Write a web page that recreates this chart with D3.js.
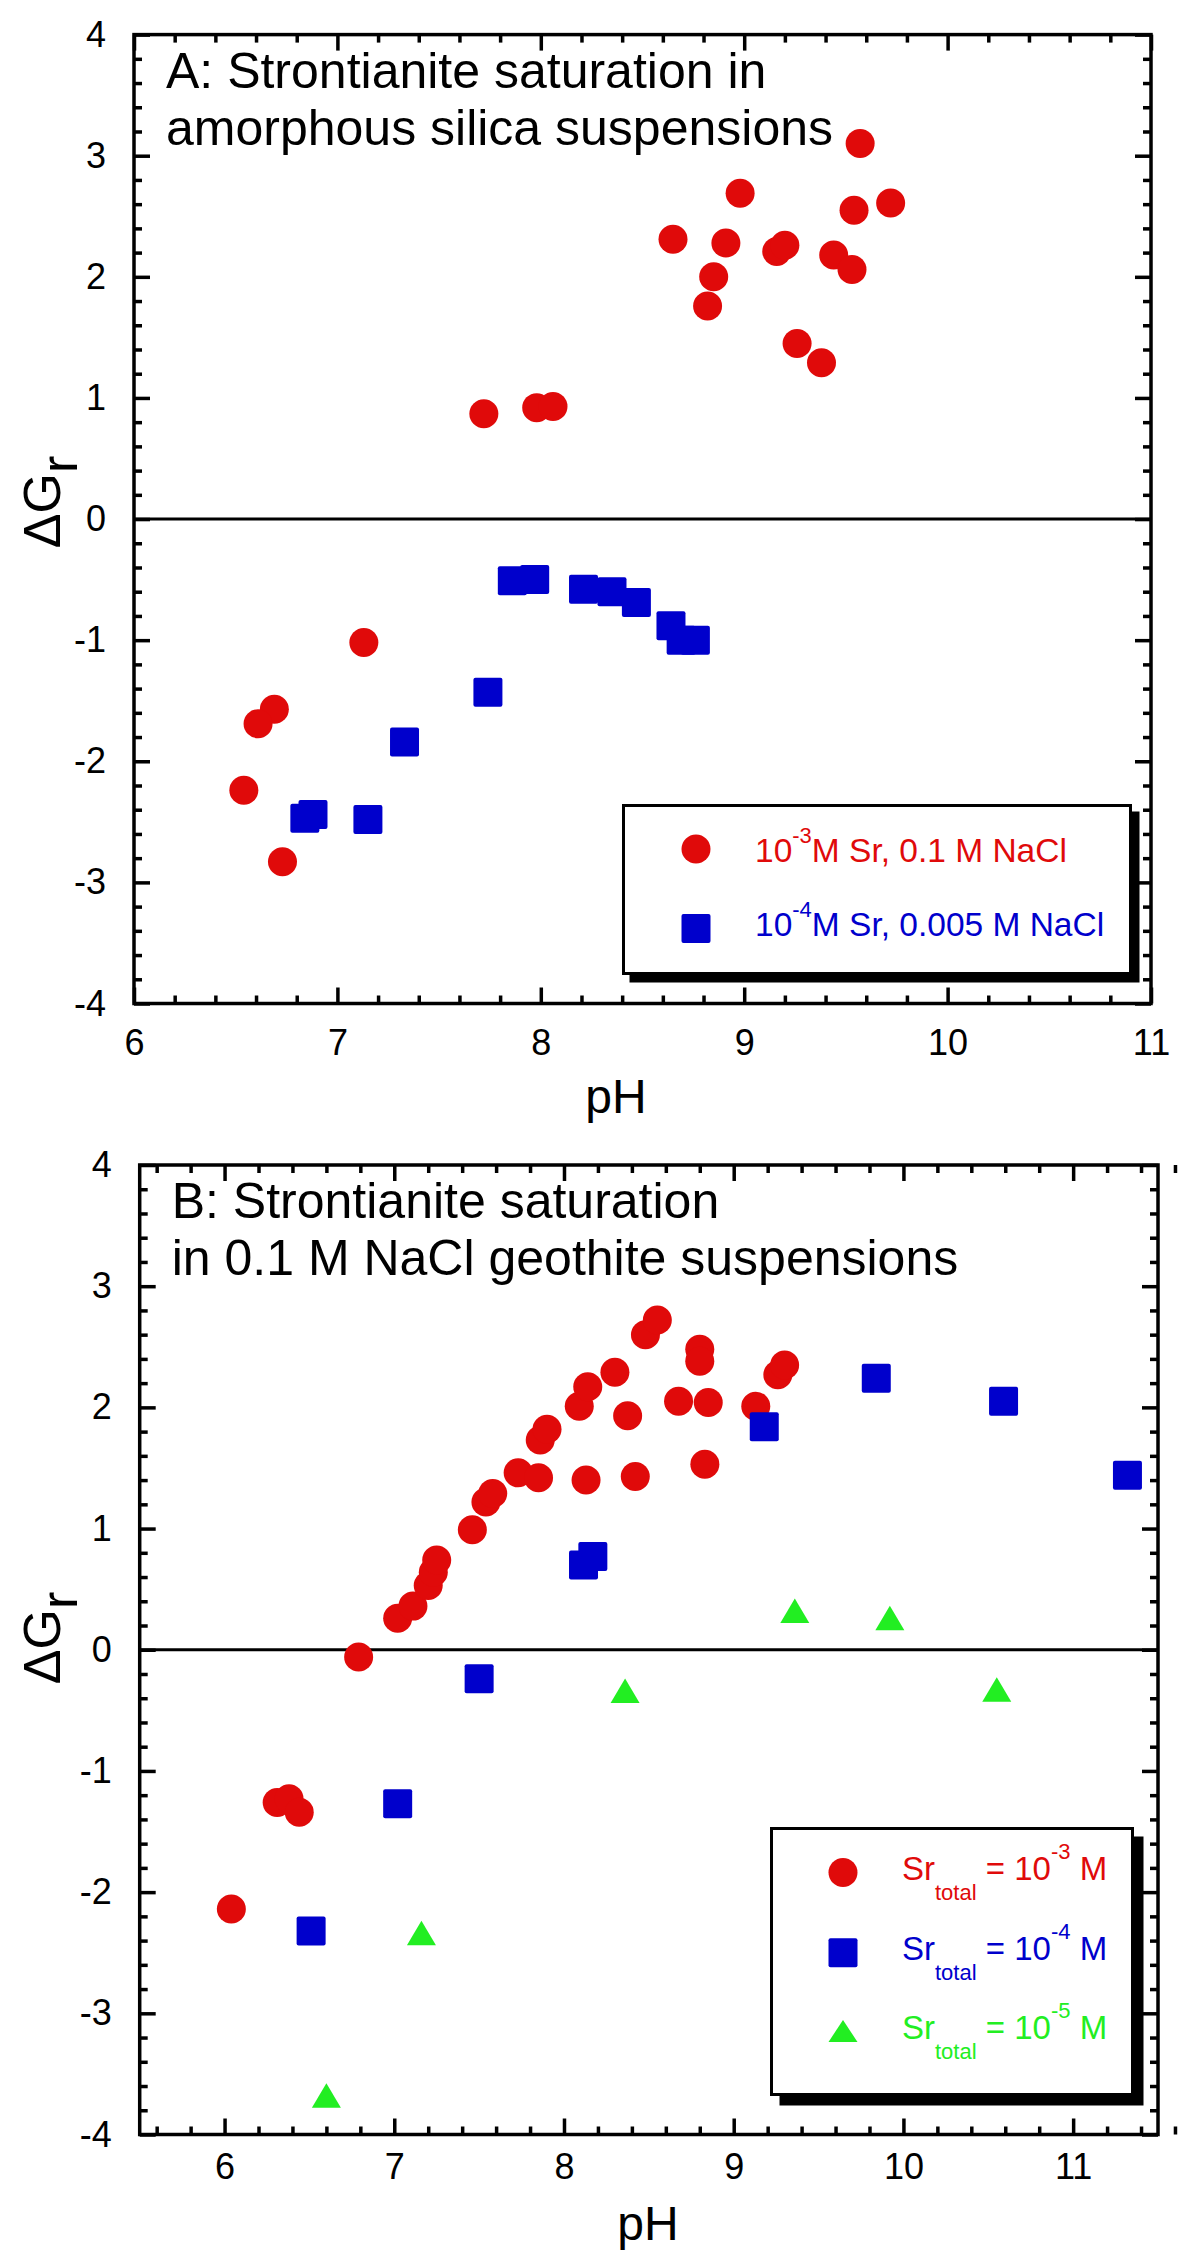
<!DOCTYPE html>
<html>
<head>
<meta charset="utf-8">
<script src="https://cdn.jsdelivr.net/npm/d3@7"></script>
<style>
  body { margin: 0; background: #fff; }
  svg { display: block; font-family: "Liberation Sans", Arial, Helvetica, sans-serif; }
</style>
</head>
<body>
<svg id="chart" width="1200" height="2260"></svg>
<script>
// ---------------- DATA ----------------
// Panel A: amorphous silica suspensions
const aRedPH = [7.72, 7.98, 8.06, 9.57, 8.98, 9.54, 9.72, 8.65, 8.91, 9.16, 9.20, 9.44, 9.53, 8.85, 8.82, 9.26, 9.38, 7.13, 6.69, 6.61, 6.54, 6.73];
const aRedDG = [0.87, 0.92, 0.93, 3.10, 2.69, 2.55, 2.61, 2.31, 2.28, 2.21, 2.26, 2.18, 2.06, 2.00, 1.76, 1.45, 1.29, -1.02, -1.57, -1.69, -2.24, -2.83];
const aBluePH = [7.86, 7.97, 8.21, 8.35, 8.47, 8.64, 8.69, 8.76, 7.74, 7.33, 6.84, 6.88, 7.15];
const aBlueDG = [-0.51, -0.50, -0.58, -0.60, -0.69, -0.88, -1.00, -1.00, -1.43, -1.84, -2.47, -2.44, -2.48];

// Panel B: 0.1 M NaCl goethite suspensions
const bRedPH = [6.79, 7.02, 7.11, 7.20, 7.23, 7.25, 7.46, 7.54, 7.58, 7.73, 7.85, 7.86, 7.90, 8.09, 8.14, 8.13, 8.30, 8.375, 8.42, 8.48, 8.55, 8.675, 8.80, 8.80, 8.85, 8.83, 9.13, 9.26, 9.30, 6.31, 6.38, 6.44, 6.04];
const bRedDG = [-0.06, 0.26, 0.36, 0.53, 0.64, 0.74, 0.99, 1.22, 1.29, 1.46, 1.42, 1.73, 1.82, 2.01, 2.17, 1.40, 2.29, 1.93, 1.43, 2.60, 2.72, 2.05, 2.48, 2.38, 2.04, 1.53, 2.01, 2.27, 2.35, -1.26, -1.23, -1.34, -2.14];
const bBluePH = [8.115, 8.17, 7.50, 9.18, 9.84, 10.59, 11.32, 7.02, 6.51];
const bBlueDG = [0.70, 0.77, -0.24, 1.84, 2.24, 2.05, 1.44, -1.27, -2.32];
const bGreenPH = [9.36, 9.92, 8.36, 10.55, 7.16, 6.60];
const bGreenDG = [0.32, 0.26, -0.34, -0.33, -2.34, -3.68];

// Tick labels
const xTicksA = [6, 7, 8, 9, 10, 11];
const xTicksB = [6, 7, 8, 9, 10, 11];
const yTicks = [-4, -3, -2, -1, 0, 1, 2, 3, 4];

// Titles / legend labels
const titleA = ["A: Strontianite saturation in", "amorphous silica suspensions"];
const titleB = ["B: Strontianite saturation", "in 0.1 M NaCl geothite suspensions"];

// ---------------- STYLE ----------------
const RED = "#E00A0A", BLUE = "#0000CC", GREEN = "#22EE22";
const svg = d3.select("#chart");

function zip(xs, ys) { return xs.map((v, i) => ({ x: v, y: ys[i] })); }

function drawPanel(cfg) {
  const g = svg.append("g");
  const x = d3.scaleLinear().domain(cfg.xDomain).range([cfg.left, cfg.right]);
  const y = d3.scaleLinear().domain([-4, 4]).range([cfg.bottom, cfg.top]);

  const xMinor = d3.range(Math.round(cfg.xDomain[0] * 5), Math.round(cfg.xDomain[1] * 5) + 1)
    .map(v => v / 5).filter(v => Math.abs(v - Math.round(v)) > 1e-6);
  const yMinor = d3.range(-20, 21).map(v => v / 5).filter(v => Math.abs(v - Math.round(v)) > 1e-6);

  const SW = 3.5;
  function styleAxis(sel) {
    sel.select(".domain").remove();
    sel.selectAll(".tick line").attr("stroke", "#000").attr("stroke-width", SW);
    sel.selectAll(".tick text").attr("fill", "#000").style("font-size", "36px")
      .style("font-family", '"Liberation Sans", Arial, sans-serif');
  }
  const fmt = d => String(d);

  // bottom
  g.append("g").attr("transform", `translate(0,${cfg.bottom})`)
    .call(d3.axisBottom(x).tickValues(cfg.xTicks).tickSize(-16).tickPadding(cfg.xPad).tickFormat(fmt)).call(styleAxis);
  g.append("g").attr("transform", `translate(0,${cfg.bottom})`)
    .call(d3.axisBottom(x).tickValues(xMinor).tickSize(-8).tickFormat("")).call(styleAxis);
  // top
  g.append("g").attr("transform", `translate(0,${cfg.top})`)
    .call(d3.axisTop(x).tickValues(cfg.xTicks).tickSize(-16).tickFormat("")).call(styleAxis);
  g.append("g").attr("transform", `translate(0,${cfg.top})`)
    .call(d3.axisTop(x).tickValues(xMinor).tickSize(-8).tickFormat("")).call(styleAxis);
  // left
  g.append("g").attr("transform", `translate(${cfg.left},0)`)
    .call(d3.axisLeft(y).tickValues(yTicks).tickSize(-16).tickPadding(28).tickFormat(fmt)).call(styleAxis);
  g.append("g").attr("transform", `translate(${cfg.left},0)`)
    .call(d3.axisLeft(y).tickValues(yMinor).tickSize(-8).tickFormat("")).call(styleAxis);
  // right
  g.append("g").attr("transform", `translate(${cfg.right},0)`)
    .call(d3.axisRight(y).tickValues(yTicks).tickSize(-16).tickFormat("")).call(styleAxis);
  g.append("g").attr("transform", `translate(${cfg.right},0)`)
    .call(d3.axisRight(y).tickValues(yMinor).tickSize(-8).tickFormat("")).call(styleAxis);

  // zero line
  g.append("line").attr("x1", cfg.left).attr("x2", cfg.right)
    .attr("y1", y(0)).attr("y2", y(0)).attr("stroke", "#000").attr("stroke-width", 3);

  // frame
  g.append("rect").attr("x", cfg.left).attr("y", cfg.top)
    .attr("width", cfg.right - cfg.left).attr("height", cfg.bottom - cfg.top)
    .attr("fill", "none").attr("stroke", "#000").attr("stroke-width", SW);

  // title
  const t = g.append("text").style("font-size", "50px").attr("fill", "#000");
  cfg.title.forEach((line, i) => {
    t.append("tspan").attr("x", cfg.left + 32).attr("y", cfg.top + 53 + i * 57).text(line);
  });

  // axis labels
  g.append("text").attr("x", cfg.pHx).attr("y", cfg.pHy).attr("text-anchor", "middle")
    .style("font-size", "48px").text("pH");
  const yl = g.append("text").attr("transform", `translate(60,${cfg.dgY}) rotate(-90)`)
    .attr("text-anchor", "middle").style("font-size", "52px");
  yl.append("tspan").text("\u0394G");
  yl.append("tspan").attr("dy", 17).text("r");

  // data
  const pts = g.append("g");
  pts.selectAll("circle.red").data(zip(cfg.red[0], cfg.red[1])).join("circle")
    .attr("class", "red").attr("cx", d => x(d.x)).attr("cy", d => y(d.y)).attr("r", 14.5).attr("fill", RED);
  pts.selectAll("rect.blue").data(zip(cfg.blue[0], cfg.blue[1])).join("rect")
    .attr("class", "blue").attr("x", d => x(d.x) - 14.5).attr("y", d => y(d.y) - 14.5)
    .attr("width", 29).attr("height", 29).attr("rx", 2).attr("fill", BLUE);
  if (cfg.green) {
    pts.selectAll("path.green").data(zip(cfg.green[0], cfg.green[1])).join("path")
      .attr("class", "green").attr("d", d => triPath(x(d.x), y(d.y))).attr("fill", GREEN);
  }
  return g;
}

function triPath(cx, cy) {
  return `M${cx},${cy - 12.5}L${cx + 14.5},${cy + 12}L${cx - 14.5},${cy + 12}Z`;
}

function legendBox(x0, y0, w, h, off) {
  svg.append("rect").attr("x", x0 + off).attr("y", y0 + off).attr("width", w).attr("height", h).attr("fill", "#000");
  svg.append("rect").attr("x", x0 + 1.5).attr("y", y0 + 1.5).attr("width", w - 3).attr("height", h - 3)
    .attr("fill", "#fff").attr("stroke", "#000").attr("stroke-width", 3);
}

// ---------------- PANEL A ----------------
drawPanel({
  xDomain: [6, 11], left: 134, right: 1151, top: 34.6, bottom: 1003.5,
  xTicks: xTicksA, xPad: 26, title: titleA,
  pHx: 616, pHy: 1113, dgY: 502,
  red: [aRedPH, aRedDG], blue: [aBluePH, aBlueDG]
});

legendBox(622, 804, 510, 171, 7.5);
{
  const rows = [
    { color: RED, sym: "circle", cy: 849, base: 862, sup: "-3", rest: "M Sr, 0.1 M NaCl" },
    { color: BLUE, sym: "square", cy: 928.5, base: 935.6, sup: "-4", rest: "M Sr, 0.005 M NaCl" }
  ];
  rows.forEach(r => {
    if (r.sym === "circle") svg.append("circle").attr("cx", 696).attr("cy", r.cy).attr("r", 14.5).attr("fill", r.color);
    else svg.append("rect").attr("x", 696 - 14.5).attr("y", r.cy - 14.5).attr("width", 29).attr("height", 29).attr("rx", 2).attr("fill", r.color);
    const t = svg.append("text").attr("x", 755).attr("y", r.base).attr("fill", r.color).style("font-size", "33.5px");
    t.append("tspan").text("10");
    t.append("tspan").attr("dy", -19).style("font-size", "22px").text(r.sup);
    t.append("tspan").attr("dy", 19).text(r.rest);
  });
}

// ---------------- PANEL B ----------------
drawPanel({
  xDomain: [5.5, 11.5], left: 139.7, right: 1158, top: 1165, bottom: 2134.5,
  xTicks: xTicksB, xPad: 19, title: titleB,
  pHx: 648, pHy: 2240, dgY: 1638,
  red: [bRedPH, bRedDG], blue: [bBluePH, bBlueDG], green: [bGreenPH, bGreenDG]
});

legendBox(770, 1827, 364, 269, 9.5);
{
  const rows = [
    { color: RED, sym: "circle", cy: 1872.4, base: 1880, sup: "-3" },
    { color: BLUE, sym: "square", cy: 1952.8, base: 1960.4, sup: "-4" },
    { color: GREEN, sym: "tri", cy: 2031, base: 2039, sup: "-5" }
  ];
  rows.forEach(r => {
    if (r.sym === "circle") svg.append("circle").attr("cx", 843).attr("cy", r.cy).attr("r", 14.5).attr("fill", r.color);
    else if (r.sym === "square") svg.append("rect").attr("x", 843 - 14.5).attr("y", r.cy - 14.5).attr("width", 29).attr("height", 29).attr("rx", 2).attr("fill", r.color);
    else svg.append("path").attr("d", `M843,${r.cy - 11}L${843 + 14.5},${r.cy + 11}L${843 - 14.5},${r.cy + 11}Z`).attr("fill", r.color);
    const t = svg.append("text").attr("x", 902).attr("y", r.base).attr("fill", r.color).style("font-size", "33px");
    t.append("tspan").text("Sr");
    t.append("tspan").attr("dy", 20).style("font-size", "22px").text("total");
    t.append("tspan").attr("dy", -20).text(" = 10");
    t.append("tspan").attr("dy", -21).style("font-size", "22px").text(r.sup);
    t.append("tspan").attr("dy", 21).text(" M");
  });
}
</script>
</body>
</html>
